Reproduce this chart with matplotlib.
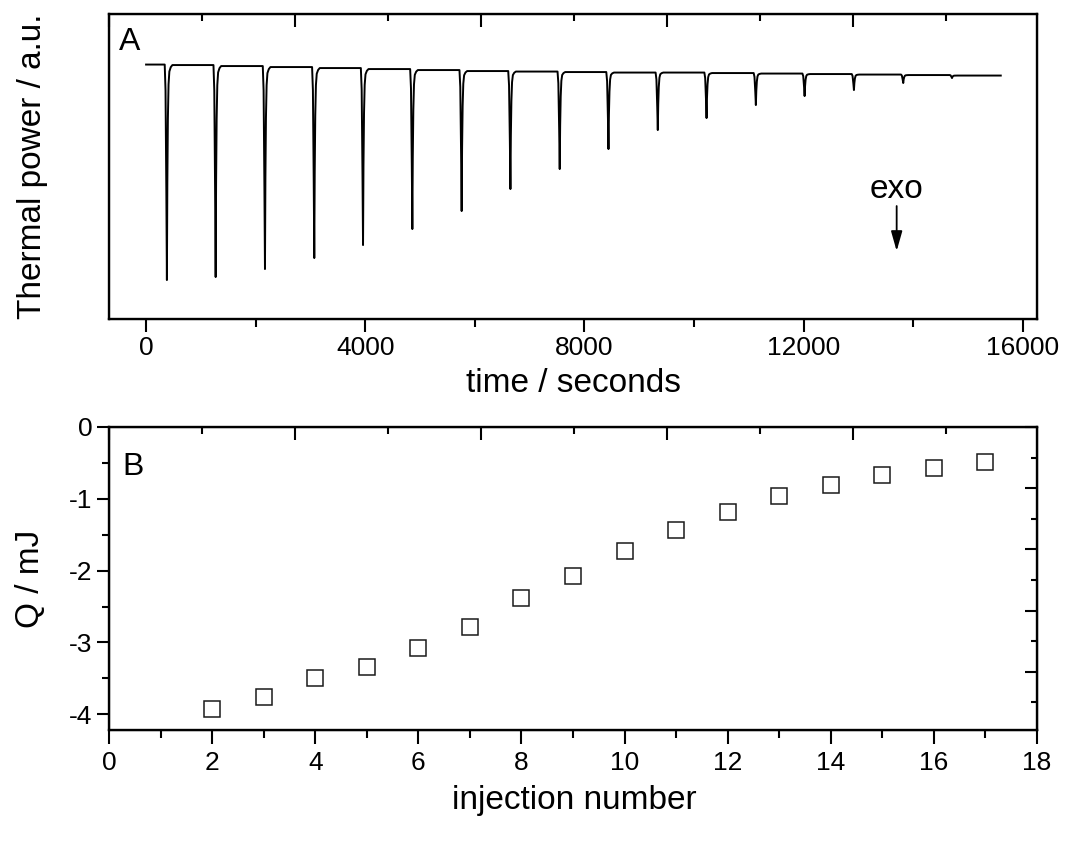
import matplotlib
matplotlib.use("Agg")
import matplotlib.pyplot as plt
from matplotlib.ticker import MultipleLocator, NullFormatter

plt.rcParams['font.family'] = ['Liberation Sans', 'DejaVu Sans']
plt.rcParams['axes.unicode_minus'] = False

# --- panel A: thermogram ---
# injection times (s) and the minimum of each peak (a.u.)
peak_times = [380, 1270, 2170, 3070, 3960, 4860, 5760, 6650, 7550,
              8440, 9340, 10230, 11130, 12020, 12920, 13820, 14710]
peak_mins = [-21.5, -21.2, -20.4, -19.3, -18.0, -16.4, -14.6, -12.4, -10.4,
             -8.4, -6.5, -5.3, -4.0, -3.1, -2.5, -1.8, -1.3]
# baseline level before the first peak and after every peak
baselines = [0.05, 0.0, -0.1, -0.2, -0.3, -0.4, -0.5, -0.6, -0.65,
             -0.7, -0.75, -0.75, -0.8, -0.85, -0.9, -0.95, -1.0, -1.05]
t_start, t_end = 0, 15600
# shape of one peak: time offset from the minimum (s) and fraction of depth
shape_dt = [-40, -25, -10, 0, 8, 18, 30, 45, 70, 100]
shape_frac = [0.0, 0.12, 0.6, 1.0, 0.55, 0.25, 0.09, 0.03, 0.01, 0.0]

# --- panel B: integrated heats ---
injection = [2, 3, 4, 5, 6, 7, 8, 9, 10, 11, 12, 13, 14, 15, 16, 17]
heat = [-3.93, -3.76, -3.50, -3.34, -3.08, -2.79, -2.38, -2.08, -1.73,
        -1.43, -1.18, -0.96, -0.81, -0.67, -0.57, -0.49]

# build the trace from the peak table
trace_t = [t_start]
trace_y = [baselines[0]]
for i, (tp, ymin) in enumerate(zip(peak_times, peak_mins)):
    before, after = baselines[i], baselines[i + 1]
    for dt, f in zip(shape_dt, shape_frac):
        base = before if dt <= 0 else after
        trace_t.append(tp + dt)
        trace_y.append(base + f * (ymin - base))
trace_t.append(t_end)
trace_y.append(baselines[-1])

fig = plt.figure(figsize=(10.68, 8.42), dpi=100)
ax1 = fig.add_axes([0.1021, 0.6211, 0.8689, 0.3622])
ax2 = fig.add_axes([0.1021, 0.1330, 0.8689, 0.3599])

lw_spine = 1.7
for ax in (ax1, ax2):
    for s in ax.spines.values():
        s.set_linewidth(lw_spine)

# panel A
ax1.plot(trace_t, trace_y, color='black', lw=1.4)
ax1.set_xlim(-676, 16262)
ax1.set_ylim(-25.4, 5.1)
ax1.xaxis.set_major_locator(MultipleLocator(4000))
ax1.xaxis.set_minor_locator(MultipleLocator(2000))
ax1.set_yticks([])
ax1.tick_params(axis='x', which='major', direction='out', length=9, width=1.5,
                labelsize=19, pad=3)
ax1.tick_params(axis='x', which='minor', direction='out', length=6, width=1.5)
ax1.set_xlabel('time / seconds', fontsize=24, va='center')
ax1.xaxis.set_label_coords(0.501, -0.21)
ax1.set_ylabel('Thermal power / a.u.', fontsize=24, va='center')
ax1.yaxis.set_label_coords(-0.082, 0.5)
ax1.text(0.011, 0.958, 'A', transform=ax1.transAxes, fontsize=23,
         ha='left', va='top')
ax1.annotate('', xy=(13700, -18.6), xytext=(13700, -14.1),
             arrowprops=dict(arrowstyle='-|>,head_length=0.6,head_width=0.17',
                             color='black', lw=1.3, mutation_scale=20,
                             shrinkA=0, shrinkB=0))
ax1.text(13700, -12.4, 'exo', fontsize=24, ha='center', va='center')

top1 = ax1.twiny()
top1.set_xlim(0, 4.99)
top1.xaxis.set_major_locator(MultipleLocator(1))
top1.xaxis.set_minor_locator(MultipleLocator(0.5))
top1.xaxis.set_major_formatter(NullFormatter())
top1.tick_params(axis='x', which='major', direction='in', length=9, width=1.5)
top1.tick_params(axis='x', which='minor', direction='in', length=5, width=1.5)

# panel B
ax2.plot(injection, heat, linestyle='none', marker='s', markersize=11.5,
         markerfacecolor='white', markeredgecolor='#1a1a1a', markeredgewidth=1.1)
ax2.set_xlim(0, 18)
ax2.set_ylim(-4.22, 0)
ax2.xaxis.set_major_locator(MultipleLocator(2))
ax2.xaxis.set_minor_locator(MultipleLocator(1))
ax2.yaxis.set_major_locator(MultipleLocator(1))
ax2.yaxis.set_minor_locator(MultipleLocator(0.5))
ax2.tick_params(axis='x', which='major', direction='out', length=10, width=1.5,
                labelsize=19, pad=5)
ax2.tick_params(axis='x', which='minor', direction='out', length=6, width=1.5)
ax2.tick_params(axis='y', which='major', direction='out', length=9, width=1.5,
                labelsize=19, pad=3)
ax2.tick_params(axis='y', which='minor', direction='out', length=5, width=1.5)
ax2.set_xlabel('injection number', fontsize=24, va='center')
ax2.xaxis.set_label_coords(0.501, -0.231)
ax2.set_ylabel('Q / mJ', fontsize=24, va='center')
ax2.yaxis.set_label_coords(-0.085, 0.5)
ax2.text(0.014, 0.918, 'B', transform=ax2.transAxes, fontsize=23,
         ha='left', va='top')

top2 = ax2.twiny()
top2.set_xlim(0, 4.99)
top2.xaxis.set_major_locator(MultipleLocator(1))
top2.xaxis.set_minor_locator(MultipleLocator(0.5))
top2.xaxis.set_major_formatter(NullFormatter())
top2.tick_params(axis='x', which='major', direction='in', length=9, width=1.5)
top2.tick_params(axis='x', which='minor', direction='in', length=5, width=1.5)

right2 = ax2.twinx()
right2.set_ylim(-0.95, 4.0)
right2.yaxis.set_major_locator(MultipleLocator(1))
right2.yaxis.set_minor_locator(MultipleLocator(0.5))
right2.yaxis.set_major_formatter(NullFormatter())
right2.tick_params(axis='y', which='major', direction='in', length=9, width=1.5)
right2.tick_params(axis='y', which='minor', direction='in', length=4, width=1.5)

fig.savefig('out.png', dpi=100)
